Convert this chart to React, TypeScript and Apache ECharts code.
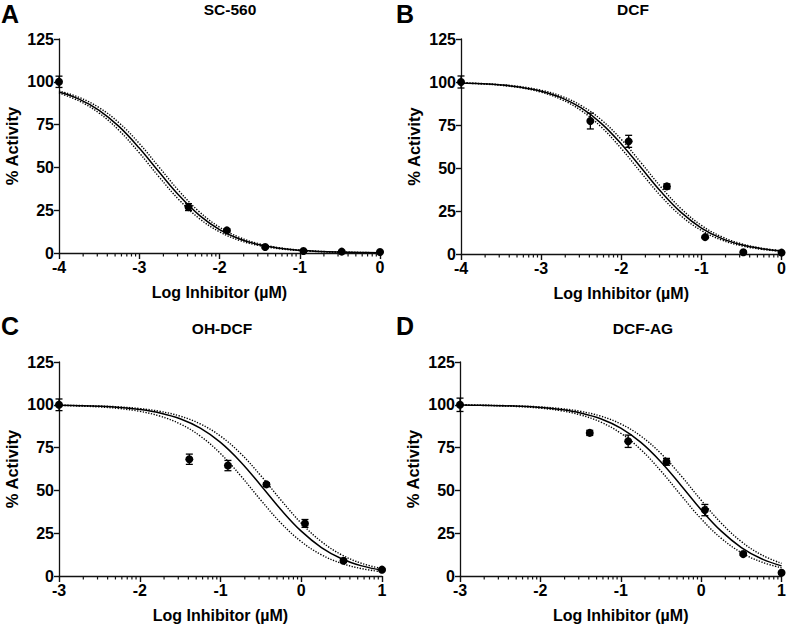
import React, { useEffect, useRef } from "react";
import * as echarts from "echarts";

const FONT = '"Liberation Sans", Arial, Helvetica, sans-serif';

// ---------- Panel labels / titles ----------
const panelLetters = ["A", "B", "C", "D"];
const panelTitles = ["SC-560", "DCF", "OH-DCF", "DCF-AG"];
const xAxisName = "Log Inhibitor (µM)";
const yAxisName = "% Activity";

// ---------- Measured points ----------
const xPointsAB = [-4, -2.386, -1.908, -1.431, -0.954, -0.477, 0];
const xPointsCD = [-3, -1.386, -0.908, -0.431, 0.046, 0.523, 1];

const meanA = [100, 26.8, 13.2, 3.5, 1.2, 0.8, 0.6];
const errA = [3.3, 2.0, 0.8, 0.5, 0.3, 0.3, 0.3];
const meanB = [100, 77.3, 65.5, 39.3, 9.8, 1.0, 0.8];
const errB = [3.5, 4.6, 3.5, 1.5, 0.5, 0.3, 0.3];
const meanC = [100, 68.2, 64.5, 53.5, 30.7, 8.9, 3.7];
const errC = [3.4, 3.0, 3.0, 1.0, 2.3, 0.8, 0.5];
const meanD = [100, 83.6, 78.7, 66.7, 38.5, 12.8, 1.9];
const errD = [3.9, 1.5, 3.6, 2.0, 3.3, 0.8, 0.5];

// ---------- Fitted curves with 95% bands ----------
const xCurveAB = [-4, -3.75, -3.5, -3.25, -3, -2.75, -2.5, -2.25, -2, -1.75, -1.5, -1.25, -1, -0.75, -0.5, -0.25, 0];
const xCurveCD = [-3, -2.75, -2.5, -2.25, -2, -1.75, -1.5, -1.25, -1, -0.75, -0.5, -0.25, 0, 0.25, 0.5, 0.75, 1];

const fitA = [94.07, 89.91, 83.37, 73.81, 61.31, 47.12, 33.39, 21.99, 13.68, 8.18, 4.77, 2.74, 1.56, 0.88, 0.5, 0.28, 0.16];
const ciHiA = [94.68, 90.91, 84.9, 75.97, 64.0, 50.0, 36.0, 24.03, 15.1, 9.09, 5.32, 3.07, 1.75, 0.99, 0.56, 0.32, 0.18];
const ciLoA = [93.39, 88.82, 81.71, 71.53, 58.55, 44.27, 30.87, 20.08, 12.38, 7.36, 4.28, 2.45, 1.39, 0.79, 0.44, 0.25, 0.14];

const fitB = [99.44, 99.01, 98.25, 96.93, 94.68, 90.91, 84.9, 75.97, 64.0, 50.0, 36.0, 24.03, 15.1, 9.09, 5.32, 3.07, 1.75];
const ciHiB = [99.5, 99.12, 98.44, 97.26, 95.23, 91.82, 86.32, 78.01, 66.61, 52.88, 38.69, 26.19, 16.63, 10.09, 5.93, 3.43, 1.96];
const ciLoB = [99.37, 98.89, 98.04, 96.57, 94.07, 89.91, 83.37, 73.81, 61.31, 47.12, 33.39, 21.99, 13.68, 8.18, 4.77, 2.74, 1.56];

const fitC = [99.72, 99.5, 99.12, 98.44, 97.26, 95.23, 91.82, 86.32, 78.01, 66.61, 52.88, 38.69, 26.19, 16.63, 10.09, 5.93, 3.43];
const ciHiC = [99.78, 99.6, 99.3, 98.76, 97.81, 96.17, 93.39, 88.82, 81.71, 71.53, 58.55, 44.27, 30.87, 20.08, 12.38, 7.36, 4.28];
const ciLoC = [99.6, 99.3, 98.76, 97.81, 96.17, 93.39, 88.82, 81.71, 71.53, 58.55, 44.27, 30.87, 20.08, 12.38, 7.36, 4.28, 2.45];

const fitD = [99.84, 99.72, 99.5, 99.12, 98.44, 97.26, 95.23, 91.82, 86.32, 78.01, 66.61, 52.88, 38.69, 26.19, 16.63, 10.09, 5.93];
const ciHiD = [99.87, 99.78, 99.6, 99.3, 98.76, 97.81, 96.17, 93.39, 88.82, 81.71, 71.53, 58.55, 44.27, 30.87, 20.08, 12.38, 7.36];
const ciLoD = [99.8, 99.65, 99.37, 98.89, 98.04, 96.57, 94.07, 89.91, 83.37, 73.81, 61.31, 47.12, 33.39, 21.99, 13.68, 8.18, 4.77];

const panels = [
  { xMin: -4, xMax: 0, xp: xPointsAB, mean: meanA, err: errA, xc: xCurveAB, fit: fitA, hi: ciHiA, lo: ciLoA },
  { xMin: -4, xMax: 0, xp: xPointsAB, mean: meanB, err: errB, xc: xCurveAB, fit: fitB, hi: ciHiB, lo: ciLoB },
  { xMin: -3, xMax: 1, xp: xPointsCD, mean: meanC, err: errC, xc: xCurveCD, fit: fitC, hi: ciHiC, lo: ciLoC },
  { xMin: -3, xMax: 1, xp: xPointsCD, mean: meanD, err: errD, xc: xCurveCD, fit: fitD, hi: ciHiD, lo: ciLoD },
];

// layout (pixels)
const grids = [
  { left: 59, top: 39, width: 321, height: 214 },
  { left: 461, top: 39, width: 322, height: 215 },
  { left: 59, top: 362, width: 323, height: 214 },
  { left: 460, top: 362, width: 322, height: 214 },
];
const letterPos = [
  { x: 1, y: 1 },
  { x: 396, y: 1 },
  { x: 1, y: 313 },
  { x: 396, y: 313 },
];
const titlePos = [
  { x: 230, y: 9 },
  { x: 633, y: 9 },
  { x: 222, y: 328 },
  { x: 643, y: 328 },
];

// log-spaced minor tick positions between the integer (decade) ticks
function logMinorTicks(min: number, max: number): number[] {
  const out: number[] = [];
  for (let d = min; d < max; d++) {
    for (let k = 2; k <= 9; k++) out.push(d + Math.log10(k));
  }
  return out;
}

const BLACK = "#000";
const AXIS = "#111";

function buildOption() {
  const xAxis: any[] = [];
  const yAxis: any[] = [];
  const series: any[] = [];
  const graphic: any[] = [];

  panels.forEach((p, i) => {
    xAxis.push({
      gridIndex: i,
      type: "value",
      min: p.xMin,
      max: p.xMax,
      interval: 1,
      position: "bottom",
      axisLine: { show: true, onZero: false, lineStyle: { color: AXIS, width: 1.3 } },
      axisTick: { show: true, length: 6, lineStyle: { color: AXIS, width: 1.4 } },
      splitLine: { show: false },
      axisLabel: { show: true, color: BLACK, fontSize: 16, fontWeight: "bold", fontFamily: FONT, margin: 6 },
      name: xAxisName,
      nameLocation: "middle",
      nameGap: 31,
      nameTextStyle: { color: BLACK, fontSize: 16, fontWeight: "bold", fontFamily: FONT },
    });
    yAxis.push({
      gridIndex: i,
      type: "value",
      min: 0,
      max: 125,
      interval: 25,
      axisLine: { show: true, onZero: false, lineStyle: { color: AXIS, width: 1.3 } },
      axisTick: { show: true, length: 5, lineStyle: { color: AXIS, width: 1.4 } },
      splitLine: { show: false },
      axisLabel: { show: true, color: BLACK, fontSize: 16, fontWeight: "bold", fontFamily: FONT, margin: 5 },
      name: yAxisName,
      nameLocation: "middle",
      nameGap: 39,
      nameTextStyle: { color: BLACK, fontSize: 16.5, fontWeight: "bold", fontFamily: FONT },
    });
  });

  panels.forEach((p, i) => {
    // minor (log-spaced) ticks under the x axis
    series.push({
      type: "custom",
      xAxisIndex: i,
      yAxisIndex: i,
      z: 6,
      silent: true,
      clip: false,
      encode: { x: 0, y: 1 },
      data: logMinorTicks(p.xMin, p.xMax).map((v) => [v, 0]),
      renderItem: (_params: any, api: any) => {
        const c = api.coord([api.value(0), api.value(1)]);
        return {
          type: "group",
          children: [
            {
              type: "line",
              shape: { x1: c[0], y1: c[1], x2: c[0], y2: c[1] + 3.5 },
              style: { stroke: AXIS, lineWidth: 1.2 },
            },
          ],
        };
      },
    });

    const mk = (ys: number[]) => p.xc.map((x, j) => [x, ys[j]]);
    const common = {
      type: "line",
      xAxisIndex: i,
      yAxisIndex: i,
      showSymbol: false,
      symbol: "none",
      smooth: 0.4,
      silent: true,
    };
    const dotted = { color: BLACK, width: 1.4, type: [1.3, 1.5] };
    series.push({ ...common, data: mk(p.hi), z: 2, lineStyle: dotted });
    series.push({ ...common, data: mk(p.lo), z: 2, lineStyle: dotted });
    series.push({ ...common, data: mk(p.fit), z: 3, lineStyle: { color: BLACK, width: 1.5 } });
    series.push({
      type: "custom",
      xAxisIndex: i,
      yAxisIndex: i,
      z: 4,
      silent: true,
      encode: { x: 0, y: 1 },
      data: p.xp.map((x, j) => [x, p.mean[j], p.err[j]]),
      renderItem: (_params: any, api: any) => {
        const x = api.value(0);
        const y = api.value(1);
        const e = api.value(2);
        const t = api.coord([x, y + e]);
        const b = api.coord([x, y - e]);
        const w = 3.5;
        const st = { stroke: BLACK, lineWidth: 1.3 };
        return {
          type: "group",
          children: [
            { type: "line", shape: { x1: t[0], y1: t[1], x2: b[0], y2: b[1] }, style: st },
            { type: "line", shape: { x1: t[0] - w, y1: t[1], x2: t[0] + w, y2: t[1] }, style: st },
            { type: "line", shape: { x1: b[0] - w, y1: b[1], x2: b[0] + w, y2: b[1] }, style: st },
          ],
        };
      },
    });
    series.push({
      type: "scatter",
      xAxisIndex: i,
      yAxisIndex: i,
      z: 5,
      symbol: "circle",
      symbolSize: 8,
      itemStyle: { color: BLACK, opacity: 1 },
      silent: true,
      data: p.xp.map((x, j) => [x, p.mean[j]]),
    });
  });

  panelLetters.forEach((l, i) => {
    graphic.push({
      type: "text",
      x: letterPos[i].x,
      y: letterPos[i].y,
      style: { text: l, font: `bold 25px ${FONT}`, fill: BLACK, align: "left", verticalAlign: "top" },
    });
  });
  panelTitles.forEach((t, i) => {
    graphic.push({
      type: "text",
      x: titlePos[i].x,
      y: titlePos[i].y,
      style: { text: t, font: `bold 15.5px ${FONT}`, fill: BLACK, align: "center", verticalAlign: "middle" },
    });
  });

  return {
    animation: false,
    backgroundColor: "#fff",
    grid: grids.map((g) => ({ ...g, containLabel: false })),
    xAxis,
    yAxis,
    series,
    graphic,
  };
}

export default function App() {
  const ref = useRef<HTMLDivElement>(null);
  useEffect(() => {
    if (!ref.current) return;
    const chart = echarts.init(ref.current, null, { renderer: "svg" });
    chart.setOption(buildOption() as any);
    return () => chart.dispose();
  }, []);
  return (
    <div
      ref={ref}
      style={{ position: "absolute", left: 0, top: 0, width: 789, height: 625, background: "#fff" }}
    />
  );
}
